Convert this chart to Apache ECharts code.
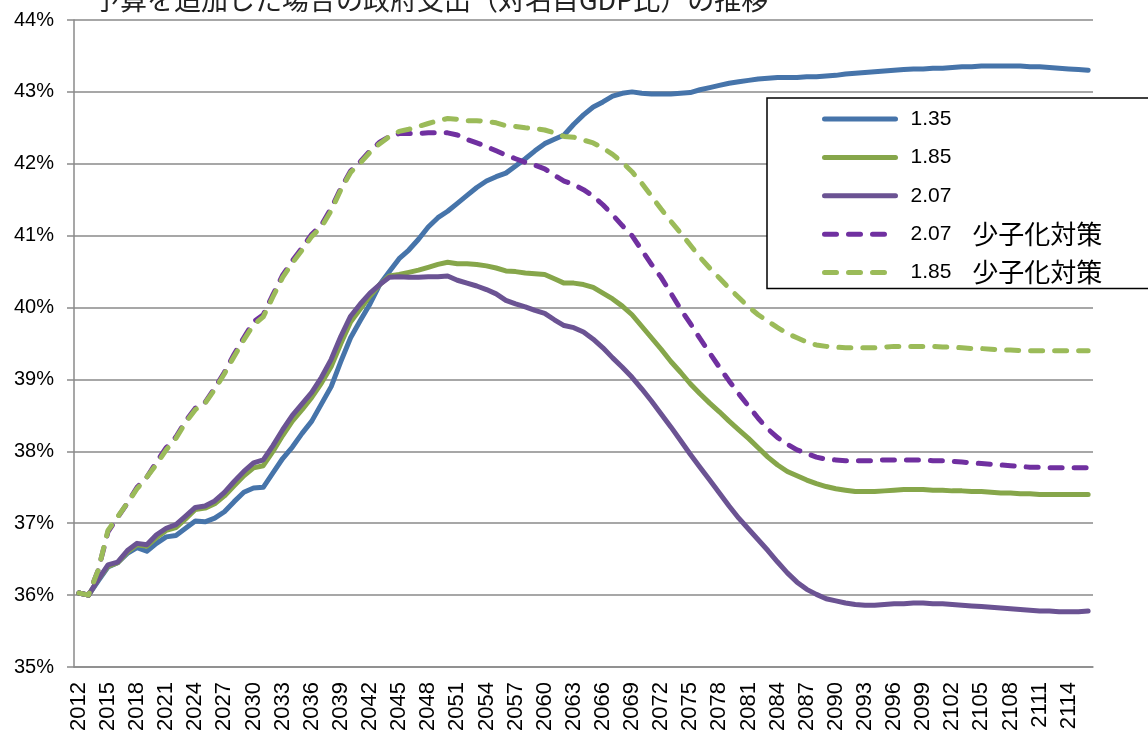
<!DOCTYPE html>
<html>
<head>
<meta charset="utf-8">
<script src="https://cdn.jsdelivr.net/npm/echarts@6/dist/echarts.min.js"></script>
<style>html,body{margin:0;padding:0;background:#fff;}#c{width:1148px;height:736px;}</style>
</head>
<body>
<div id="c"></div>
<script>
const titleText = '予算を追加した場合の政府支出（対名目GDP比）の推移';
const years = [];
for (let y = 2012; y <= 2116; y++) years.push(String(y));

const seriesNames = ['1.35', '1.85', '2.07', '2.07　少子化対策', '1.85　少子化対策'];

const s135 = [
36.03,36.00,36.20,36.39,36.45,36.58,36.66,36.61,36.72,36.81,
36.83,36.93,37.03,37.02,37.07,37.16,37.30,37.43,37.49,37.50,
37.70,37.90,38.06,38.25,38.42,38.66,38.90,39.25,39.58,39.82,
40.05,40.32,40.50,40.68,40.80,40.95,41.12,41.25,41.34,41.45,
41.56,41.67,41.76,41.82,41.87,41.97,42.07,42.18,42.28,42.34,
42.40,42.55,42.68,42.79,42.86,42.94,42.98,43.00,42.98,42.97,
42.97,42.97,42.98,42.99,43.03,43.06,43.09,43.12,43.14,43.16,
43.18,43.19,43.20,43.20,43.20,43.21,43.21,43.22,43.23,43.25,
43.26,43.27,43.28,43.29,43.30,43.31,43.32,43.32,43.33,43.33,
43.34,43.35,43.35,43.36,43.36,43.36,43.36,43.36,43.35,43.35,
43.34,43.33,43.32,43.31,43.30];

const s185 = [
36.03,36.00,36.22,36.40,36.45,36.60,36.70,36.68,36.80,36.90,
36.94,37.06,37.19,37.21,37.27,37.38,37.52,37.66,37.77,37.80,
38.00,38.22,38.42,38.58,38.75,38.95,39.18,39.50,39.80,39.98,
40.16,40.32,40.44,40.46,40.49,40.52,40.56,40.60,40.63,40.61,
40.61,40.60,40.58,40.55,40.51,40.50,40.48,40.47,40.46,40.40,
40.34,40.34,40.32,40.28,40.20,40.12,40.02,39.90,39.74,39.58,
39.42,39.25,39.10,38.94,38.80,38.67,38.55,38.42,38.30,38.18,
38.05,37.92,37.81,37.72,37.66,37.60,37.55,37.51,37.48,37.46,
37.44,37.44,37.44,37.45,37.46,37.47,37.47,37.47,37.46,37.46,
37.45,37.45,37.44,37.44,37.43,37.42,37.42,37.41,37.41,37.40,
37.40,37.40,37.40,37.40,37.40];

const s207 = [
36.03,36.00,36.22,36.42,36.46,36.62,36.72,36.70,36.84,36.93,
36.98,37.10,37.22,37.24,37.31,37.43,37.58,37.72,37.84,37.88,
38.08,38.30,38.50,38.66,38.82,39.03,39.28,39.60,39.88,40.05,
40.20,40.32,40.42,40.43,40.42,40.42,40.43,40.43,40.44,40.38,
40.34,40.30,40.25,40.19,40.10,40.05,40.01,39.96,39.92,39.83,
39.75,39.72,39.66,39.56,39.44,39.30,39.17,39.03,38.87,38.70,
38.52,38.34,38.15,37.96,37.78,37.60,37.42,37.24,37.07,36.92,
36.77,36.62,36.46,36.31,36.18,36.08,36.01,35.95,35.92,35.89,
35.87,35.86,35.86,35.87,35.88,35.88,35.89,35.89,35.88,35.88,
35.87,35.86,35.85,35.84,35.83,35.82,35.81,35.80,35.79,35.78,
35.78,35.77,35.77,35.77,35.78];

const s207p = [
36.03,36.00,36.35,36.88,37.08,37.28,37.50,37.64,37.85,38.05,
38.20,38.42,38.60,38.68,38.88,39.10,39.35,39.58,39.80,39.90,
40.18,40.45,40.65,40.83,41.02,41.15,41.38,41.66,41.90,42.03,
42.18,42.30,42.38,42.42,42.42,42.42,42.43,42.43,42.43,42.40,
42.34,42.29,42.24,42.18,42.12,42.07,42.02,41.98,41.93,41.84,
41.76,41.71,41.64,41.55,41.43,41.29,41.14,41.00,40.80,40.60,
40.42,40.20,39.98,39.78,39.57,39.37,39.17,38.98,38.80,38.63,
38.46,38.31,38.19,38.10,38.02,37.97,37.92,37.89,37.88,37.87,
37.87,37.87,37.87,37.88,37.88,37.88,37.88,37.88,37.87,37.87,
37.86,37.85,37.84,37.83,37.82,37.81,37.80,37.79,37.78,37.78,
37.77,37.77,37.77,37.77,37.77];

const s185p = [
36.03,36.00,36.35,36.90,37.09,37.28,37.48,37.64,37.82,38.02,
38.18,38.40,38.58,38.67,38.86,39.08,39.32,39.55,39.76,39.87,
40.15,40.42,40.62,40.80,40.99,41.12,41.35,41.64,41.88,42.01,
42.16,42.28,42.38,42.45,42.48,42.52,42.56,42.60,42.63,42.62,
42.60,42.60,42.59,42.57,42.53,42.52,42.50,42.49,42.47,42.43,
42.38,42.37,42.33,42.29,42.22,42.13,42.02,41.89,41.73,41.55,
41.37,41.20,41.04,40.87,40.70,40.55,40.41,40.27,40.14,40.01,
39.90,39.81,39.72,39.64,39.58,39.52,39.48,39.46,39.45,39.44,
39.44,39.44,39.44,39.45,39.46,39.46,39.46,39.46,39.46,39.45,
39.45,39.44,39.43,39.43,39.42,39.41,39.41,39.40,39.40,39.40,
39.40,39.40,39.40,39.40,39.40];

const colors = ['#4674aa', '#86a64a', '#6b5393', '#7030a0', '#9bbb59'];
const dataSets = [s135, s185, s207, s207p, s185p];
const dashed = [false, false, false, true, true];

const chart = echarts.init(document.getElementById('c'), null, {renderer: 'canvas'});
const axisFont = 'Liberation Sans, Arial, sans-serif';

chart.setOption({
  backgroundColor: '#fff',
  animation: false,
  title: {
    text: titleText,
    left: 88,
    top: -19,
    textStyle: {fontFamily: 'Noto Sans CJK JP', fontSize: 27, fontWeight: 'normal', color: '#222'}
  },
  grid: {left: 74, right: 55, top: 20, bottom: 69, containLabel: false},
  legend: {
    orient: 'vertical',
    left: 767,
    top: 98,
    padding: [8, 80, 3, 55],
    borderColor: '#000',
    borderWidth: 1.5,
    backgroundColor: '#fff',
    itemWidth: 71,
    itemHeight: 22,
    itemGap: 12.4,
    itemStyle: {opacity: 0},
    lineStyle: {width: 5, cap: 'round'},
    formatter: function (name) {
      const parts = name.split('　');
      if (parts.length > 1) return '{n|' + parts[0] + '　}{j|' + parts[1] + '}';
      return '{n|' + name + '}{j| }';
    },
    textStyle: {
      color: '#000',
      padding: [0, 0, 0, 10],
      rich: {
        n: {fontFamily: axisFont, fontSize: 21, color: '#000', lineHeight: 22},
        j: {fontFamily: 'Noto Sans CJK JP', fontSize: 26, color: '#000', lineHeight: 22}
      }
    },
    data: seriesNames
  },
  xAxis: {
    type: 'category',
    data: years,
    boundaryGap: true,
    axisLine: {lineStyle: {color: '#8a8a8a', width: 1.5}},
    axisTick: {interval: 0, length: 7, lineStyle: {color: '#8a8a8a', width: 1.5}},
    axisLabel: {interval: 2, rotate: 90, margin: 15, fontFamily: axisFont, fontSize: 22, color: '#000'},
    splitLine: {show: false}
  },
  yAxis: {
    type: 'value',
    min: 35, max: 44, interval: 1,
    axisLine: {show: true, lineStyle: {color: '#8a8a8a', width: 1.5}},
    axisTick: {show: true, length: 7, lineStyle: {color: '#8a8a8a', width: 1.5}},
    axisLabel: {formatter: '{value}%', margin: 20, fontFamily: axisFont, fontSize: 20, color: '#000'},
    splitLine: {lineStyle: {color: '#8a8a8a', width: 1.5}}
  },
  series: seriesNames.map((name, i) => ({
    name: name,
    type: 'line',
    data: dataSets[i],
    symbol: 'none',
    smooth: false,
    color: colors[i],
    lineStyle: {
      color: colors[i],
      width: 5,
      type: dashed[i] ? [12, 12] : 'solid',
      cap: 'round',
      join: 'round'
    },
    z: 2 + i
  }))
});
</script>
</body>
</html>
